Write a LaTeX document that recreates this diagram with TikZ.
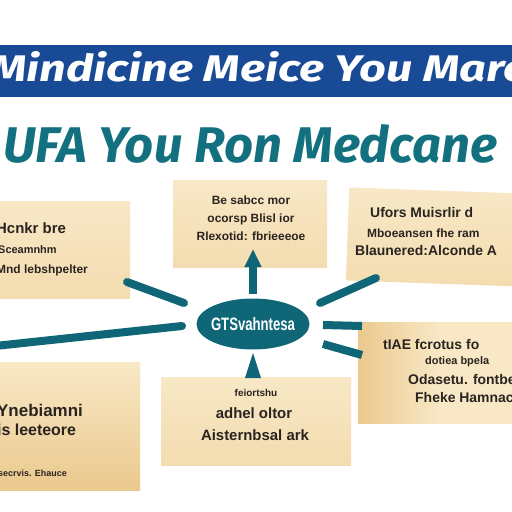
\documentclass[tikz,border=0pt]{standalone}
\usepackage{fontspec}
\setmainfont{Liberation Sans}
\newfontfamily\headfont{Fira Sans}
\usetikzlibrary{arrows.meta,shapes.geometric}
\definecolor{bannerblue}{HTML}{184A96}
\definecolor{titleteal}{HTML}{12707F}
\definecolor{connteal}{HTML}{0E6676}
\definecolor{cardA}{HTML}{F8E8C6}
\definecolor{cardB}{HTML}{F3DCB0}
\definecolor{cardEdge}{HTML}{EBC98E}
\definecolor{inktext}{HTML}{2A2420}
\begin{document}
\begin{tikzpicture}[x=1bp,y=-1bp,
  card/.style={draw=none, top color=cardA, bottom color=cardB, inner sep=0pt},
  cardtext/.style={text=inktext, font=\bfseries\fontsize{12}{18}\selectfont, align=center, inner sep=0pt},
  conn/.style={draw=connteal, line width=8bp, line cap=round},
  hub/.style={ellipse, fill=connteal, minimum width=113bp, minimum height=51bp, inner sep=0pt}
]
\useasboundingbox (0,0) rectangle (512,512);
\fill[white] (0,0) rectangle (512,512);

% banner
\fill[bannerblue] (0,45) rectangle (512,97);
\node[anchor=west, inner sep=0pt, text=white] (banner) at (-10,67)
  {\resizebox{535bp}{30bp}{\headfont\bfseries\itshape Mindicine Meice You Marc}};
% second title
\node[anchor=west, inner sep=0pt, text=titleteal] (title) at (3,144)
  {\resizebox{494bp}{38bp}{\headfont\bfseries\itshape UFA You Ron Medcane}};

% cards
\node[card, minimum width=135bp, minimum height=96bp] (b1) at (62.5,250) {};
\node[card, minimum width=154bp, minimum height=86bp] (b2) at (250,224) {};
\node[card, minimum width=175bp, minimum height=93bp, rotate=-2] (b3) at (435,237) {};
\node[card, left color=cardEdge, right color=cardA, middle color=cardA, minimum width=162bp, minimum height=101bp] (b4) at (439,372.5) {};
\node[card, bottom color=cardEdge, minimum width=145bp, minimum height=128bp] (b5) at (67.5,426) {};
\node[card, minimum width=190bp, minimum height=88bp] (b6) at (256,421) {};

% card texts
\node[cardtext, anchor=west] (t1a) at (-4,228) {\fontsize{15}{15}\selectfont Hcnkr bre};
\node[cardtext, anchor=west] (t1b) at (-2,250) {\fontsize{11}{11}\selectfont Sceamnhm};
\node[cardtext, anchor=west] (t1c) at (-4,270) {Mnd lebshpelter};

\node[cardtext] (t2) at (251,218) {Be sabcc mor\\ocorsp Blisl ior\\Rlexotid: fbrieeeoe};

\node[cardtext, anchor=west] (t3a) at (370,213) {\fontsize{14}{14}\selectfont Ufors Muisrlir d};
\node[cardtext, anchor=west] (t3b) at (367,233) {Mboeansen fhe ram};
\node[cardtext, anchor=west] (t3c) at (355,251) {\fontsize{14}{14}\selectfont Blaunered:Alconde A};

\node[cardtext, anchor=west] (t4a) at (383,345) {\fontsize{14}{14}\selectfont tIAE fcrotus fo};
\node[cardtext, anchor=west] (t4b) at (425,362) {\fontsize{11}{11}\selectfont dotiea bpela};
\node[cardtext, anchor=west] (t4c) at (408,380) {\fontsize{14}{14}\selectfont Odasetu. fontbe};
\node[cardtext, anchor=west] (t4d) at (415,398) {\fontsize{14}{14}\selectfont Fheke Hamnac};

\node[cardtext, anchor=west] (t5a) at (-3,410) {\fontsize{17}{17}\selectfont Ynebiamni};
\node[cardtext, anchor=west] (t5b) at (-3,430) {\fontsize{16}{16}\selectfont is leeteore};
\node[cardtext, anchor=west] (t5c) at (-2,473) {\fontsize{9}{9}\selectfont secrvis. Ehauce};

\node[cardtext] (t6a) at (256,393) {\fontsize{10}{10}\selectfont feiortshu};
\node[cardtext] (t6b) at (254,413) {\fontsize{15}{15}\selectfont adhel oltor};
\node[cardtext] (t6c) at (255,435) {\fontsize{15}{15}\selectfont Aisternbsal ark};

% hub
\node[hub] (hub) at (253,324) {};
\node[text=white, inner sep=0pt] (hubtext) at (hub.center)
  {\resizebox{84bp}{13bp}{\bfseries GTSvahntesa}};

% connector end points
\coordinate (c1a) at (127,282);  \coordinate (c1b) at (184,303);
\coordinate (c2a) at (-5,346);   \coordinate (c2b) at (182,326);
\coordinate (c3a) at (320,303);  \coordinate (c3b) at (376,278);
\coordinate (c4a) at (323,325);  \coordinate (c4b) at (362,326);
\coordinate (c5a) at (323,344);  \coordinate (c5b) at (362,355);
\coordinate (up1) at (253,294);  \coordinate (up2) at (253,249);
\coordinate (dn)  at (253,353);
\coordinate (dnl) at (245,378);  \coordinate (dnr) at (261,378);

\draw[conn] (c1a) -- (c1b);
\draw[conn] (c2a) -- (c2b);
\draw[conn] (c3a) -- (c3b);
\draw[conn, line cap=butt] (c4a) -- (c4b);
\draw[conn, line cap=butt] (c5a) -- (c5b);
\draw[conn, line cap=butt, -{Triangle[width=16bp,length=18bp]}] (up1) -- (up2);
\fill[connteal] (dn) -- (dnl) -- (dnr) -- cycle;
\end{tikzpicture}
\end{document}
